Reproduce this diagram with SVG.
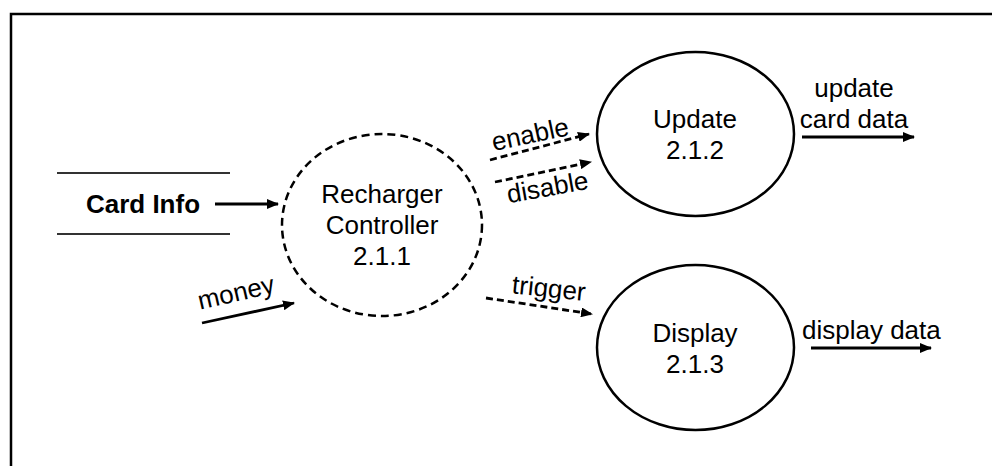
<svg xmlns="http://www.w3.org/2000/svg" width="992" height="466" viewBox="0 0 992 466">
<defs>
<style>
.t{font-family:"Liberation Sans","Arial",sans-serif;font-size:26px;fill:#000}
.n{text-anchor:middle}
.b{font-weight:bold;text-anchor:middle}
.c{fill:none;stroke:#000;stroke-width:2.5}
.a{fill:none;stroke:#000;stroke-width:2.8}
.d{stroke-dasharray:7 4}
</style>
<marker id="ah" markerUnits="userSpaceOnUse" markerWidth="12" markerHeight="10" refX="11" refY="5" orient="auto">
<path d="M0,0 L12,5 L0,10 Z" fill="#000"/>
</marker>
</defs>
<rect width="992" height="466" fill="#fff"/>
<path d="M11,480 L11,14 L1000,14" fill="none" stroke="#000" stroke-width="2.5"/>
<g id="store-card-info">
<line x1="57" y1="173" x2="230" y2="173" stroke="#333" stroke-width="2.2"/>
<line x1="57" y1="234" x2="230" y2="234" stroke="#333" stroke-width="2.2"/>
<text class="t b" x="143" y="213">Card Info</text>
</g>
<g id="recharger-controller">
<ellipse class="c" cx="382" cy="225" rx="100" ry="91" stroke-dasharray="8 5"/>
<text class="t n" x="382" y="203">Recharger</text>
<text class="t n" x="382" y="234">Controller</text>
<text class="t n" x="382" y="265">2.1.1</text>
</g>
<g id="update">
<ellipse class="c" cx="695.5" cy="134" rx="98.5" ry="82"/>
<text class="t n" x="695" y="128">Update</text>
<text class="t n" x="695" y="159">2.1.2</text>
</g>
<g id="display">
<ellipse class="c" cx="695.5" cy="347.5" rx="98.5" ry="82.5"/>
<text class="t n" x="695" y="342">Display</text>
<text class="t n" x="695" y="373">2.1.3</text>
</g>
<g id="connectors">
<line class="a" x1="215" y1="204" x2="278" y2="204" marker-end="url(#ah)"/>
<line class="a" x1="202" y1="323" x2="294" y2="303" marker-end="url(#ah)"/>
<line class="a d" x1="490" y1="160" x2="589" y2="134" marker-end="url(#ah)"/>
<line class="a d" x1="495" y1="182" x2="591" y2="162" marker-end="url(#ah)"/>
<line class="a d" x1="486" y1="298" x2="592" y2="314" marker-end="url(#ah)"/>
<line class="a" x1="802" y1="137" x2="914" y2="137" marker-end="url(#ah)"/>
<line class="a" x1="811" y1="348" x2="931" y2="348" marker-end="url(#ah)"/>
<text class="t" x="238" y="301" text-anchor="middle" transform="rotate(-13 238 301)">money</text>
<text class="t" x="532" y="143" text-anchor="middle" transform="rotate(-12 532 143)">enable</text>
<text class="t" x="549" y="196" text-anchor="middle" transform="rotate(-10 549 196)">disable</text>
<text class="t" x="548" y="297" text-anchor="middle" transform="rotate(6 548 297)">trigger</text>
<text class="t" x="854" y="97" text-anchor="middle">update</text>
<text class="t" x="854" y="128" text-anchor="middle">card data</text>
<text class="t" x="802" y="339">display data</text>
</g>
</svg>
